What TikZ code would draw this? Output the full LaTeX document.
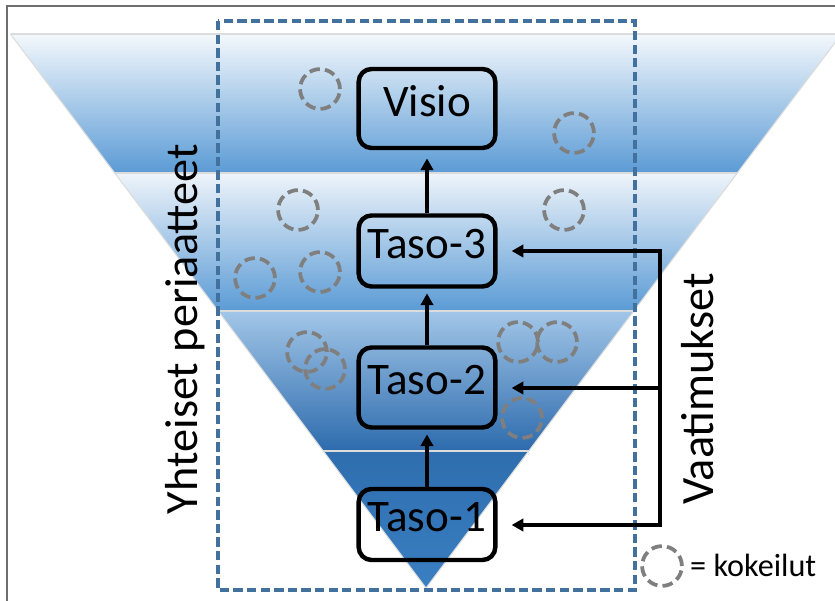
\documentclass[tikz,border=0pt]{standalone}
\usepackage{fontspec}
\setmainfont{Carlito}
\usetikzlibrary{arrows.meta}
\definecolor{bOneT}{HTML}{F4F8FC}
\definecolor{bOneB}{HTML}{5B9BD5}
\definecolor{bTwoT}{HTML}{EEF4FA}
\definecolor{bTwoB}{HTML}{5B9BD5}
\definecolor{bThrT}{HTML}{A2C6E8}
\definecolor{bThrB}{HTML}{2D6BAD}
\definecolor{bFouT}{HTML}{2E6EAF}
\definecolor{bFouM}{HTML}{4189D0}
\definecolor{bFouB}{HTML}{3A7FC2}
\definecolor{sepgray}{HTML}{DCDCDC}
\definecolor{kgray}{HTML}{7F7F7F}
\definecolor{dashblue}{HTML}{41719C}
\definecolor{framegray}{HTML}{6E6E6E}
\begin{document}
\begin{tikzpicture}[x=0.03cm,y=-0.03cm,
  box/.style={draw=black, line width=3.8pt, rounded corners=11pt, minimum width=4.1cm,
    inner sep=0pt, text depth=13pt, font=\fontsize{38.5}{40}\selectfont},
  arr/.style={line width=3.1pt, -{Triangle[length=10pt,width=10.5pt]}},
  kok/.style={draw=kgray, line width=3.2pt, dash pattern=on 9pt off 4.4pt},
  sep/.style={draw=sepgray, line width=0.9pt},
  big/.style={font=\fontsize{39.5}{41}\selectfont, rotate=90, anchor=base, inner sep=0pt}]
\useasboundingbox (0,0) rectangle (835,601);
\fill[white] (0,0) rectangle (835,601);
% frame
\draw[framegray, line width=1.8pt] (7,601) -- (7,6) -- (835,6);
% funnel bands
\shade[top color=bOneT, bottom color=bOneB] (10.5,34) -- (841.5,34) -- (737.25,173) -- (114.75,173) -- cycle;
\shade[top color=bTwoT, bottom color=bTwoB] (114.75,173) -- (737.25,173) -- (633.75,311) -- (218.25,311) -- cycle;
\shade[top color=bThrT, bottom color=bThrB] (218.25,311) -- (633.75,311) -- (528.75,451) -- (323.25,451) -- cycle;
\shade[top color=bFouT, middle color=bFouM, bottom color=bFouB] (323.25,451) -- (528.75,451) -- (426,588) -- cycle;
\draw[sep] (10.5,34) -- (841.5,34);
\draw[sep] (114.75,173) -- (737.25,173);
\draw[sep] (218.25,311) -- (633.75,311);
\draw[sep] (323.25,451) -- (528.75,451);
\draw[sep] (10.5,34) -- (426,588) -- (841.5,34);
% dashed frame
\draw[dashblue, line width=3.3pt, dash pattern=on 8pt off 3.6pt] (218,21) rectangle (635,590);
% experiments
\foreach \cx/\cy in {320/89, 574/133, 298/210, 564/210, 255/278, 320/272, 307/352, 325/369, 518/342, 557/342, 522/418}
  \draw[kok] (\cx,\cy) circle[radius=17pt];
% levels
\node[box, minimum height=2.37cm] (vis) at (427,108.5) {Visio};
\node[box, minimum height=2.13cm] (t3) at (427,251) {Taso-3};
\node[box, minimum height=2.4cm] (t2) at (427,387.5) {Taso-2};
\node[box, minimum height=2.13cm] (t1) at (427,524.5) {Taso-1};
\draw[arr, shorten >=7pt] (t3.north) -- (vis.south);
\draw[arr, shorten >=4pt] (t2.north) -- (t3.south);
\draw[arr, shorten >=4pt] (t1.north) -- (t2.south);
% requirements
\coordinate (r3) at (660,251);
\coordinate (r2) at (660,388);
\coordinate (r1) at (660,525);
\draw[line width=3.1pt] ([yshift=1.55pt]r3) -- ([yshift=-1.55pt]r1);
\draw[arr, shorten >=12pt] (r3) -- (r3 -| t3.east);
\draw[arr, shorten >=12pt] (r2) -- (r2 -| t2.east);
\draw[arr, shorten >=12pt] (r1) -- (r1 -| t1.east);
% side labels
\node[big] (yp) at (197,329) {Yhteiset periaatteet};
\node[big] (va) at (713,389) {Vaatimukset};
% legend
\draw[kok] (662,566) circle[radius=17pt];
\node[anchor=base west, inner sep=0pt, font=\fontsize{27.5}{29}\selectfont] (lg) at (690,577) {= kokeilut};
\end{tikzpicture}
\end{document}
